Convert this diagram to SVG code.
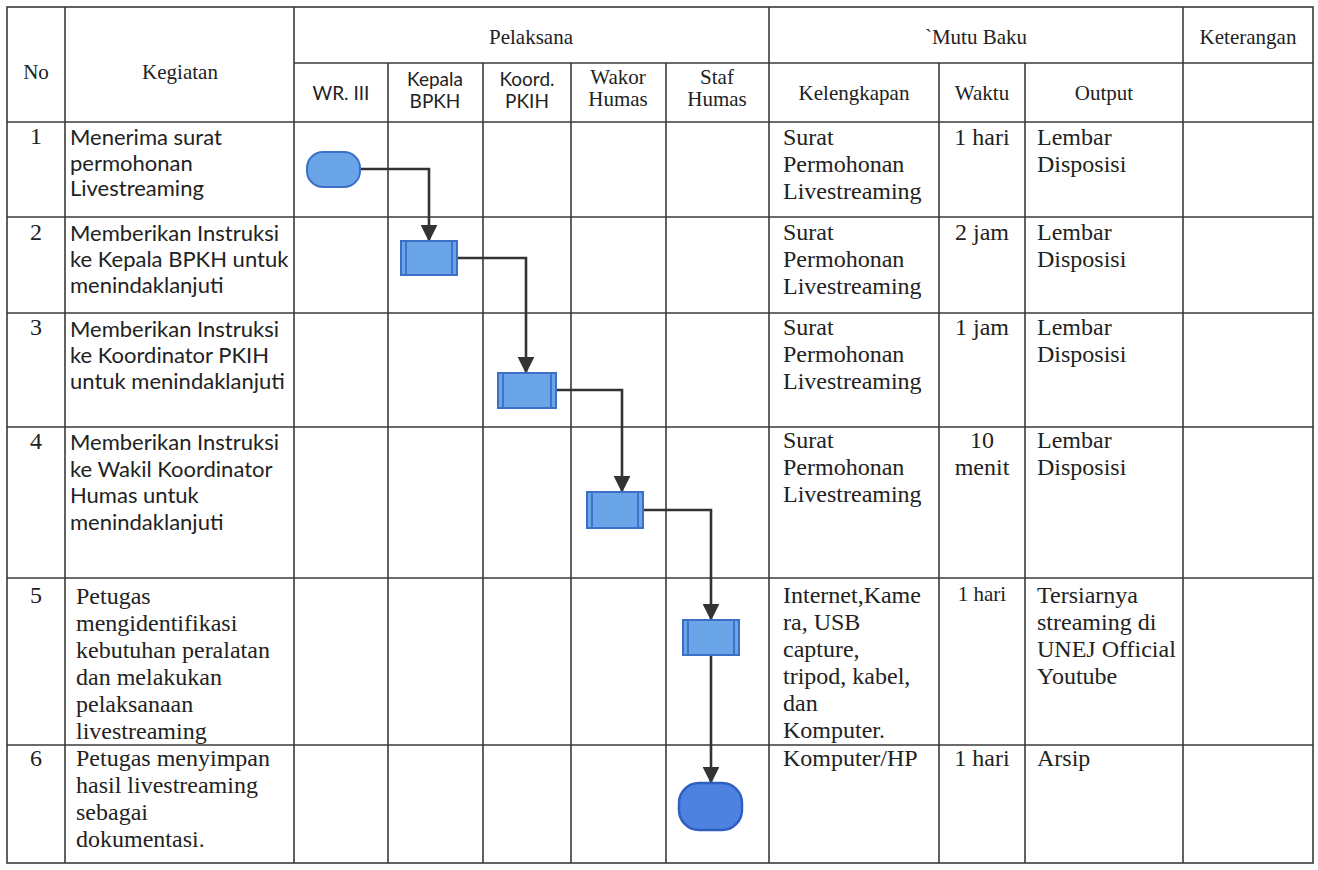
<svg xmlns="http://www.w3.org/2000/svg" width="1318" height="870" viewBox="0 0 1318 870">
<defs>
<style>
.g{stroke:#3a3a3a;stroke-width:1.6;fill:none}
.t{font-family:"Liberation Serif",serif;font-size:24px;fill:#222}
.h{font-family:"Liberation Serif",serif;font-size:21px;fill:#222}
.c{font-family:Lato,"Liberation Sans",sans-serif;font-size:22px;fill:#222}
.ch{font-family:Lato,"Liberation Sans",sans-serif;font-size:19px;fill:#222}
.m{text-anchor:middle}
.term{fill:#6aa5e8;stroke:#3d6fc6;stroke-width:2}
.term2{fill:#4d82e0;stroke:#2f5fbf;stroke-width:2.5}
.proc{fill:#6aa5e8;stroke:#3d6fc6;stroke-width:2}
.pl{stroke:#3d6fc6;stroke-width:1.8}
.cn{stroke:#333;stroke-width:2.6;fill:none;marker-end:url(#ah)}
</style>
<marker id="ah" viewBox="0 0 10 10" refX="9" refY="5" markerWidth="6.5" markerHeight="6.5" orient="auto" markerUnits="strokeWidth">
<path d="M0,0 L10,5 L0,10 z" fill="#333"/>
</marker>
</defs>
<rect width="1318" height="870" fill="#ffffff"/>

<g id="table">
<rect class="g" x="7" y="7" width="1306" height="856"/>
<line class="g" x1="294" y1="63" x2="1313" y2="63"/>
<line class="g" x1="7" y1="122" x2="1313" y2="122"/>
<line class="g" x1="7" y1="217" x2="1313" y2="217"/>
<line class="g" x1="7" y1="313" x2="1313" y2="313"/>
<line class="g" x1="7" y1="427" x2="1313" y2="427"/>
<line class="g" x1="7" y1="578" x2="1313" y2="578"/>
<line class="g" x1="7" y1="745" x2="1313" y2="745"/>
<line class="g" x1="65" y1="7" x2="65" y2="863"/>
<line class="g" x1="294" y1="7" x2="294" y2="863"/>
<line class="g" x1="388" y1="63" x2="388" y2="863"/>
<line class="g" x1="483" y1="63" x2="483" y2="863"/>
<line class="g" x1="571" y1="63" x2="571" y2="863"/>
<line class="g" x1="666" y1="63" x2="666" y2="863"/>
<line class="g" x1="769" y1="7" x2="769" y2="863"/>
<line class="g" x1="939" y1="63" x2="939" y2="863"/>
<line class="g" x1="1025" y1="63" x2="1025" y2="863"/>
<line class="g" x1="1183" y1="7" x2="1183" y2="863"/>
</g>

<g id="header">
<text class="h m" x="531" y="44">Pelaksana</text>
<text class="h m" x="976" y="44">`Mutu Baku</text>
<text class="h m" x="1248" y="44">Keterangan</text>
<text class="h m" x="36" y="79">No</text>
<text class="h m" x="180" y="79">Kegiatan</text>
<text class="ch m" x="341" y="100">WR. III</text>
<text class="ch m" x="435" y="86">Kepala</text>
<text class="ch m" x="435" y="108">BPKH</text>
<text class="ch m" x="527" y="86">Koord.</text>
<text class="ch m" x="527" y="108">PKIH</text>
<text class="h m" x="618" y="84">Wakor</text>
<text class="h m" x="618" y="106">Humas</text>
<text class="h m" x="717" y="84">Staf</text>
<text class="h m" x="717" y="106">Humas</text>
<text class="h m" x="854" y="100">Kelengkapan</text>
<text class="h m" x="982" y="100">Waktu</text>
<text class="h m" x="1104" y="100">Output</text>
</g>

<g id="row1">
<text class="t m" x="36" y="144">1</text>
<text class="c" x="70" y="145">Menerima surat</text>
<text class="c" x="70" y="171">permohonan</text>
<text class="c" x="70" y="196">Livestreaming</text>
<text class="t" x="783" y="145">Surat</text>
<text class="t" x="783" y="172">Permohonan</text>
<text class="t" x="783" y="199">Livestreaming</text>
<text class="t m" x="982" y="145">1 hari</text>
<text class="t" x="1037" y="145">Lembar</text>
<text class="t" x="1037" y="172">Disposisi</text>
</g>

<g id="row2">
<text class="t m" x="36" y="240">2</text>
<text class="c" x="70" y="241">Memberikan Instruksi</text>
<text class="c" x="70" y="267">ke Kepala BPKH untuk</text>
<text class="c" x="70" y="293">menindaklanjuti</text>
<text class="t" x="783" y="240">Surat</text>
<text class="t" x="783" y="267">Permohonan</text>
<text class="t" x="783" y="294">Livestreaming</text>
<text class="t m" x="982" y="240">2 jam</text>
<text class="t" x="1037" y="240">Lembar</text>
<text class="t" x="1037" y="267">Disposisi</text>
</g>

<g id="row3">
<text class="t m" x="36" y="335">3</text>
<text class="c" x="70" y="337">Memberikan Instruksi</text>
<text class="c" x="70" y="363">ke Koordinator PKIH</text>
<text class="c" x="70" y="389">untuk menindaklanjuti</text>
<text class="t" x="783" y="335">Surat</text>
<text class="t" x="783" y="362">Permohonan</text>
<text class="t" x="783" y="389">Livestreaming</text>
<text class="t m" x="982" y="335">1 jam</text>
<text class="t" x="1037" y="335">Lembar</text>
<text class="t" x="1037" y="362">Disposisi</text>
</g>

<g id="row4">
<text class="t m" x="36" y="449">4</text>
<text class="c" x="70" y="450">Memberikan Instruksi</text>
<text class="c" x="70" y="477">ke Wakil Koordinator</text>
<text class="c" x="70" y="503">Humas untuk</text>
<text class="c" x="70" y="530">menindaklanjuti</text>
<text class="t" x="783" y="448">Surat</text>
<text class="t" x="783" y="475">Permohonan</text>
<text class="t" x="783" y="502">Livestreaming</text>
<text class="t m" x="982" y="448">10</text>
<text class="t m" x="982" y="475">menit</text>
<text class="t" x="1037" y="448">Lembar</text>
<text class="t" x="1037" y="475">Disposisi</text>
</g>

<g id="row5">
<text class="t m" x="36" y="603">5</text>
<text class="t" x="76" y="604">Petugas</text>
<text class="t" x="76" y="631">mengidentifikasi</text>
<text class="t" x="76" y="658">kebutuhan peralatan</text>
<text class="t" x="76" y="685">dan melakukan</text>
<text class="t" x="76" y="712">pelaksanaan</text>
<text class="t" x="76" y="739">livestreaming</text>
<text class="t" x="783" y="603">Internet,Kame</text>
<text class="t" x="783" y="630">ra, USB</text>
<text class="t" x="783" y="657">capture,</text>
<text class="t" x="783" y="684">tripod, kabel,</text>
<text class="t" x="783" y="711">dan</text>
<text class="t" x="783" y="738">Komputer.</text>
<text class="h m" x="982" y="601">1 hari</text>
<text class="t" x="1037" y="603">Tersiarnya</text>
<text class="t" x="1037" y="630">streaming di</text>
<text class="t" x="1037" y="657">UNEJ Official</text>
<text class="t" x="1037" y="684">Youtube</text>
</g>

<g id="row6">
<text class="t m" x="36" y="766">6</text>
<text class="t" x="76" y="766">Petugas menyimpan</text>
<text class="t" x="76" y="793">hasil livestreaming</text>
<text class="t" x="76" y="820">sebagai</text>
<text class="t" x="76" y="847">dokumentasi.</text>
<text class="t" x="783" y="766">Komputer/HP</text>
<text class="t m" x="982" y="766">1 hari</text>
<text class="t" x="1037" y="766">Arsip</text>
</g>

<g id="connectors">
<path class="cn" d="M360,169 H429 V240"/>
<path class="cn" d="M457,258 H526 V372"/>
<path class="cn" d="M556,390 H622 V491"/>
<path class="cn" d="M643,510 H711 V619"/>
<path class="cn" d="M711,655 V782"/>
</g>

<g id="n1-start"><rect class="term" x="307" y="152" width="53" height="35" rx="16"/></g>
<g id="n2-kepala"><rect class="proc" x="401" y="241" width="56" height="34"/><line class="pl" x1="406" y1="241" x2="406" y2="275"/><line class="pl" x1="452" y1="241" x2="452" y2="275"/></g>
<g id="n3-koord"><rect class="proc" x="498" y="373" width="58" height="35"/><line class="pl" x1="503" y1="373" x2="503" y2="408"/><line class="pl" x1="551" y1="373" x2="551" y2="408"/></g>
<g id="n4-wakor"><rect class="proc" x="587" y="492" width="56" height="36"/><line class="pl" x1="592" y1="492" x2="592" y2="528"/><line class="pl" x1="638" y1="492" x2="638" y2="528"/></g>
<g id="n5-staf"><rect class="proc" x="683" y="620" width="56" height="35"/><line class="pl" x1="688" y1="620" x2="688" y2="655"/><line class="pl" x1="734" y1="620" x2="734" y2="655"/></g>
<g id="n6-end"><rect class="term2" x="679" y="783" width="63" height="47" rx="20"/></g>
</svg>
